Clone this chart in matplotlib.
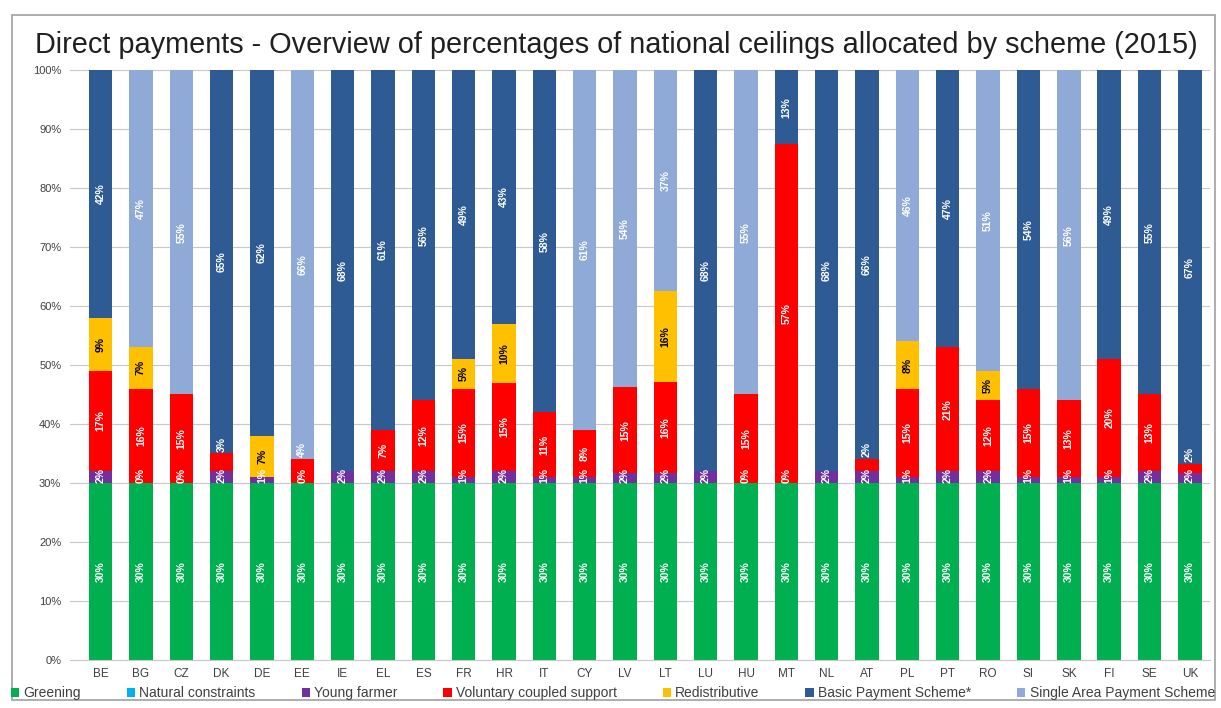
import matplotlib.pyplot as plt
from matplotlib.patches import Rectangle
import numpy as np

countries = ["BE", "BG", "CZ", "DK", "DE", "EE", "IE", "EL", "ES", "FR", "HR", "IT", "CY", "LV",
             "LT", "LU", "HU", "MT", "NL", "AT", "PL", "PT", "RO", "SI", "SK", "FI", "SE", "UK"]

greening = [30, 30, 30, 30, 30, 30, 30, 30, 30, 30, 30, 30, 30, 30,
            30, 30, 30, 30, 30, 30, 30, 30, 30, 30, 30, 30, 30, 30]
natural_constraints = [0, 0, 0, 0, 0, 0, 0, 0, 0, 0, 0, 0, 0, 0,
                       0, 0, 0, 0, 0, 0, 0, 0, 0, 0, 0, 0, 0, 0]
young_farmer = [2, 0, 0, 2, 1, 0, 2, 2, 2, 1, 2, 1, 1, 1.6,
                1.6, 2, 0, 0, 2, 2, 1, 2, 2, 1, 1, 1, 2, 1.6]
coupled_support = [17, 16, 15, 3, 0, 4, 0, 7, 12, 15, 15, 11, 8, 14.6,
                   15.5, 0, 15, 57.4, 0, 2, 15, 21, 12, 15, 13, 20, 13, 1.6]
redistributive = [9, 7, 0, 0, 7, 0, 0, 0, 0, 5, 10, 0, 0, 0,
                  15.5, 0, 0, 0, 0, 0, 8, 0, 5, 0, 0, 0, 0, 0]
basic_payment = [42, 0, 0, 65, 62, 0, 68, 61, 56, 49, 43, 58, 0, 0,
                 0, 68, 0, 12.6, 68, 66, 0, 47, 0, 54, 0, 49, 55, 66.8]
single_area = [0, 47, 55, 0, 0, 66, 0, 0, 0, 0, 0, 0, 61, 53.8,
               37.4, 0, 55, 0, 0, 0, 46, 0, 51, 0, 56, 0, 0, 0]

series = [
    ("Greening", greening, "#00b050", "white"),
    ("Natural constraints", natural_constraints, "#00b0f0", "white"),
    ("Young farmer", young_farmer, "#7030a0", "white"),
    ("Voluntary coupled support", coupled_support, "#ff0000", "white"),
    ("Redistributive", redistributive, "#ffc000", "black"),
    ("Basic Payment Scheme*", basic_payment, "#2f5b94", "white"),
    ("Single Area Payment Scheme", single_area, "#8faad6", "white"),
]

plt.rcParams['font.family'] = ['Liberation Sans', 'DejaVu Sans']

fig = plt.figure(figsize=(12.21, 7.08), dpi=100)
ax = fig.add_axes([0.057, 0.068, 0.934, 0.833])

x = np.arange(len(countries))
bottom = np.zeros(len(countries))
for name, vals, color, tcolor in series:
    vals = np.array(vals, dtype=float)
    ax.bar(x, vals, 0.58, bottom=bottom, color=color, label=name, zorder=2)
    for i, v in enumerate(vals):
        if v > 0 or name == "Young farmer":
            ypos = bottom[i] + v / 2
            # keep the labels of thin slices from sitting on top of each other
            if name == "Young farmer":
                ypos = max(ypos, 31.3)
            elif name == "Voluntary coupled support" and v < 5:
                ypos = bottom[i] + v + 1.6
            ax.text(x[i], ypos, f"{v:.0f}%", rotation=90,
                    ha="center", va="center", fontsize=7.5, fontweight="bold",
                    color=tcolor, zorder=3)
    bottom += vals

ax.set_ylim(0, 100)
ax.set_xlim(-0.77, 27.5)
ax.set_yticks(np.arange(0, 101, 10))
ax.set_yticklabels([f"{t}%" for t in range(0, 101, 10)], fontsize=8, color="#404040")
ax.set_xticks(x)
ax.set_xticklabels(countries, fontsize=8.5, color="#404040")
ax.tick_params(length=0, pad=6)
ax.grid(axis="y", color="#c8c8c8", lw=0.8, zorder=0)
for s in ["top", "right", "left"]:
    ax.spines[s].set_visible(False)
ax.spines["bottom"].set_color("#c8c8c8")

fig.text(0.505, 0.937, "Direct payments - Overview of percentages of national ceilings allocated by scheme (2015)",
         ha="center", va="center", fontsize=20.8, color="#202020")

fig.legend(loc="center", bbox_to_anchor=(0.502, 0.021), ncol=7, fontsize=10, frameon=False,
           handlelength=0.6, handleheight=0.6, handletextpad=0.3, columnspacing=3.3,
           labelcolor="#404040")

fig.patches.append(Rectangle((0.0098, 0.011), 0.985, 0.968, transform=fig.transFigure,
                             fill=False, edgecolor="#a0a0a0", lw=1.2))

fig.savefig("out.png", dpi=100)
